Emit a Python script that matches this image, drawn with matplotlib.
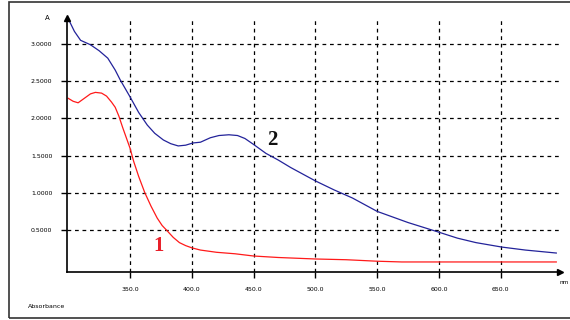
import matplotlib.pyplot as plt
from matplotlib.patches import Rectangle

# curve 2 (blue)
wl_2 = [300, 305, 310, 318, 325, 332, 338, 342, 350, 357, 364, 370, 377, 383, 389,
        395, 401, 407, 415, 422, 430, 437, 443, 450, 460, 470, 480, 490, 500, 515,
        530, 550, 575, 600, 615, 630, 651, 670, 695]
abs_2 = [3.34, 3.17, 3.05, 2.99, 2.91, 2.81, 2.65, 2.52, 2.29, 2.08, 1.91, 1.80, 1.71, 1.66, 1.63,
         1.64, 1.67, 1.68, 1.74, 1.77, 1.78, 1.77, 1.73, 1.65, 1.53, 1.44, 1.34, 1.25, 1.16, 1.04,
         0.93, 0.75, 0.60, 0.47, 0.39, 0.33, 0.27, 0.23, 0.19]

# curve 1 (red)
wl_1 = [300, 304, 308, 313, 318, 322, 327, 331, 335, 338, 341, 344, 347, 350, 353,
        357, 362, 367, 372, 376, 380, 385, 390, 395, 400, 407, 420, 435, 450, 470,
        500, 525, 550, 570, 620, 695]
abs_1 = [2.27, 2.23, 2.21, 2.27, 2.33, 2.35, 2.34, 2.30, 2.22, 2.15, 2.03, 1.88, 1.74, 1.60, 1.42,
         1.22, 1.00, 0.82, 0.66, 0.56, 0.49, 0.40, 0.33, 0.29, 0.26, 0.23, 0.20, 0.18, 0.15, 0.13,
         0.11, 0.10, 0.08, 0.07, 0.07, 0.07]

x_ticks = [350, 400, 450, 500, 550, 600, 650]
y_ticks = [0.5, 1.0, 1.5, 2.0, 2.5, 3.0]

fig = plt.figure(figsize=(5.7, 3.2), dpi=100)
ax = fig.add_axes([67 / 570, 48 / 320, 493 / 570, 254 / 320])

# outer frame
fig.patches.append(Rectangle((9 / 570, 2 / 320), 565 / 570, 316 / 320, transform=fig.transFigure,
                             fill=False, edgecolor='#333333', linewidth=1.2))

ax.plot(wl_2, abs_2, color='#23239a', linewidth=0.9)
ax.plot(wl_1, abs_1, color='#ff1a1a', linewidth=0.9)

ax.set_xlim(299, 698)
ax.set_ylim(-0.065, 3.35)

ax.set_xticks(x_ticks)
ax.set_xticklabels([f'{v:.1f}' for v in x_ticks])
ax.set_yticks(y_ticks)
ax.set_yticklabels([f'{v:.4f}' for v in y_ticks])
ax.tick_params(direction='out', length=4.5, width=1, labelsize=4.5, pad=6, colors='black')

ax.grid(True, color='black', linestyle=(0, (3, 3)), linewidth=0.9)

for s in ['top', 'right']:
    ax.spines[s].set_visible(False)
for s in ['left', 'bottom']:
    ax.spines[s].set_linewidth(1.2)

# axis arrows
ax.plot([0], [1], marker='^', color='black', markersize=4, transform=ax.transAxes, clip_on=False)
ax.plot([1], [0], marker='>', color='black', markersize=4, transform=ax.transAxes, clip_on=False)

ax.text(-0.035, 1.0, 'A', transform=ax.transAxes, fontsize=5, ha='right', va='center')
fig.text(559 / 570, 1 - 283 / 320, 'nm', fontsize=4.2, ha='left', va='center')
fig.text(28 / 570, 1 - 307 / 320, 'Absorbance', fontsize=4.5, ha='left', va='center')

ax.text(369, 0.15, '1', color='#e8202a', fontsize=15, fontweight='bold',
        family='Liberation Serif', va='bottom')
ax.text(461, 1.57, '2', color='#111111', fontsize=15, fontweight='bold',
        family='Liberation Serif', va='bottom')

fig.savefig('out.png', dpi=100)
